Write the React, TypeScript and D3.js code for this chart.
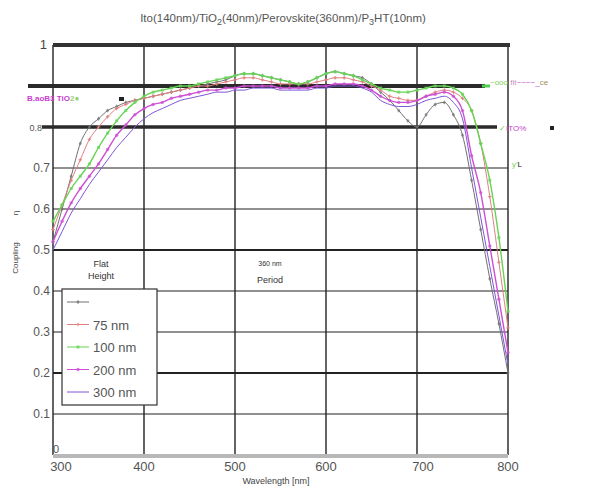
import * as d3 from "d3";

const W = 607;
const H = 489;

// wavelength grid, 10 nm steps
const wavelengths = d3.range(300, 801, 10);

const flatValues = [
  0.52, 0.6, 0.68, 0.76, 0.8, 0.82, 0.84, 0.85, 0.86, 0.865, 0.87,
  0.875, 0.88, 0.885, 0.89, 0.895, 0.9, 0.905, 0.91, 0.915, 0.925,
  0.93, 0.93, 0.925, 0.92, 0.915, 0.91, 0.905, 0.91, 0.92, 0.93,
  0.935, 0.93, 0.925, 0.92, 0.905, 0.885, 0.865, 0.84, 0.815, 0.8,
  0.83, 0.855, 0.86, 0.83, 0.78, 0.67, 0.55, 0.43, 0.32, 0.2,
];
const nm75Values = [
  0.55, 0.61, 0.67, 0.72, 0.77, 0.8, 0.825, 0.845, 0.855, 0.865, 0.87,
  0.875, 0.88, 0.885, 0.89, 0.895, 0.9, 0.9, 0.905, 0.91, 0.915,
  0.92, 0.92, 0.915, 0.91, 0.905, 0.905, 0.905, 0.905, 0.91, 0.915,
  0.92, 0.92, 0.915, 0.91, 0.9, 0.89, 0.875, 0.87, 0.865, 0.865,
  0.875, 0.885, 0.89, 0.885, 0.87, 0.84, 0.76, 0.63, 0.47, 0.31,
];
const nm100Values = [
  0.57, 0.61, 0.65, 0.68, 0.71, 0.75, 0.785, 0.815, 0.84, 0.86, 0.875,
  0.885, 0.89, 0.895, 0.9, 0.9, 0.905, 0.91, 0.915, 0.92, 0.925,
  0.93, 0.93, 0.925, 0.92, 0.915, 0.91, 0.905, 0.91, 0.92, 0.93,
  0.935, 0.93, 0.925, 0.915, 0.905, 0.895, 0.89, 0.885, 0.885, 0.89,
  0.895, 0.9, 0.9, 0.895, 0.88, 0.84, 0.76, 0.67, 0.53, 0.35,
];
const nm200Values = [
  0.52, 0.57, 0.615, 0.65, 0.68, 0.71, 0.745, 0.78, 0.805, 0.83, 0.845,
  0.855, 0.86, 0.87, 0.875, 0.88, 0.885, 0.89, 0.89, 0.895, 0.895,
  0.9, 0.9, 0.9, 0.9, 0.895, 0.895, 0.895, 0.895, 0.9, 0.9,
  0.905, 0.905, 0.905, 0.9, 0.89, 0.875, 0.865, 0.86, 0.86, 0.865,
  0.875, 0.88, 0.885, 0.875, 0.84, 0.73, 0.64, 0.51, 0.38, 0.25,
];
const nm300Values = [
  0.5, 0.545, 0.59, 0.625, 0.66, 0.69, 0.72, 0.75, 0.775, 0.8, 0.82,
  0.835, 0.845, 0.855, 0.865, 0.87, 0.875, 0.88, 0.885, 0.885, 0.89,
  0.89, 0.895, 0.895, 0.895, 0.89, 0.89, 0.89, 0.89, 0.895, 0.895,
  0.9, 0.9, 0.9, 0.895, 0.885, 0.865, 0.855, 0.85, 0.85, 0.855,
  0.865, 0.87, 0.875, 0.86, 0.82, 0.7, 0.58, 0.46, 0.34, 0.22,
];

const series = [
  { label: "", values: flatValues, color: "#707070", marker: "diamond", width: 1 },
  { label: "75 nm", values: nm75Values, color: "#e08080", marker: "cross", width: 1 },
  { label: "100 nm", values: nm100Values, color: "#66d455", marker: "square", width: 1.4 },
  { label: "200 nm", values: nm200Values, color: "#cc4fd4", marker: "circle", width: 1.4 },
  { label: "300 nm", values: nm300Values, color: "#7d55d8", marker: "none", width: 1 },
];

const xTicks = [300, 400, 500, 600, 700, 800];
const yTicks = [0, 0.1, 0.2, 0.3, 0.4, 0.5, 0.6, 0.7, 0.8, 0.9, 1];

const x = d3.scaleLinear().domain([300, 800]).range([53, 508]);
const y = d3.scaleLinear().domain([0, 1]).range([455, 45]);

const font = "'Liberation Sans', Arial, sans-serif";

function Marker({ kind, cx, cy, color }: { kind: string; cx: number; cy: number; color: string }) {
  if (kind === "diamond")
    return <path d={`M${cx},${cy - 2.2}L${cx + 1.6},${cy}L${cx},${cy + 2.2}L${cx - 1.6},${cy}Z`} fill={color} opacity={0.75} />;
  if (kind === "cross")
    return <path d={`M${cx - 1.8},${cy}H${cx + 1.8}M${cx},${cy - 1.8}V${cy + 1.8}`} stroke={color} strokeWidth={1} />;
  if (kind === "square")
    return <rect x={cx - 1.5} y={cy - 1.5} width={3} height={3} fill={color} opacity={0.75} />;
  if (kind === "circle")
    return <circle cx={cx} cy={cy} r={1.7} fill={color} opacity={0.75} />;
  return null;
}

export default function App() {
  const line = d3
    .line<number>()
    .x((_, i) => x(wavelengths[i]))
    .y((v) => y(v))
    .curve(d3.curveMonotoneX);

  return (
    <div style={{ position: "absolute", left: 0, top: 0 }}>
      <svg width={W} height={H} style={{ background: "#fff", fontFamily: font }}>
        <text x={283} y={22} textAnchor="middle" fontSize={11.5} fill="#555">
          Ito(140nm)/TiO<tspan fontSize={9} dy={3}>2</tspan>
          <tspan dy={-3}>(40nm)/Perovskite(360nm)/P</tspan>
          <tspan fontSize={9} dy={3}>3</tspan>
          <tspan dy={-3}>HT(10nm)</tspan>
        </text>

        {/* thin horizontal grid */}
        {yTicks
          .filter((t) => t > 0 && t < 0.8)
          .map((t) => (
            <line key={t} x1={x(300)} x2={x(800)} y1={y(t)} y2={y(t)} stroke="#222"
              strokeWidth={t === 0.5 || t === 0.2 ? 1.8 : 1.2} />
          ))}

        {/* vertical grid */}
        {xTicks.map((t) => (
          <line key={t} x1={x(t)} x2={x(t)} y1={y(1)} y2={y(0)} stroke="#222" strokeWidth={1.4} />
        ))}

        {/* bottom axis */}
        <line x1={x(300)} x2={x(800)} y1={y(0) + 1} y2={y(0) + 1} stroke="#b8b8b8" strokeWidth={4} />

        {/* heavy reference lines */}
        <line x1={x(300)} x2={x(800) + 2} y1={y(1)} y2={y(1)} stroke="#333" strokeWidth={4} />
        <line x1={28} x2={485} y1={y(0.9)} y2={y(0.9)} stroke="#2a2a2a" strokeWidth={4} />
        <line x1={42} x2={497} y1={y(0.8)} y2={y(0.8)} stroke="#2a2a2a" strokeWidth={3.5} />

        {/* y tick labels */}
        <text x={47} y={y(1) + 4} textAnchor="end" fontSize={13} fill="#444">1</text>
        {yTicks
          .filter((t) => t > 0 && t < 1 && t !== 0.9)
          .map((t) => (
            <text key={t} x={t === 0.8 ? 42 : 50} y={y(t) + 4} textAnchor="end" fontSize={t === 0.8 ? 9 : 12} fill="#555">
              {t.toFixed(1)}
            </text>
          ))}
        <text x={53} y={y(0) - 2} fontSize={11} fill="#555">0</text>

        {/* x tick labels */}
        {xTicks.map((t) => (
          <text key={t} x={x(t) + (t === 300 ? 8 : t === 700 ? 6 : 0)} y={471} textAnchor="middle" fontSize={13} fill="#555">
            {t}
          </text>
        ))}
        <text x={276} y={484} textAnchor="middle" fontSize={9} fill="#444">Wavelength [nm]</text>

        {/* y axis title */}
        <text transform="translate(18,258) rotate(-90)" textAnchor="middle" fontSize={8} fill="#444">Coupling</text>
        <text transform="translate(18,213) rotate(-90)" textAnchor="middle" fontSize={8} fill="#444">η</text>

        {/* curves */}
        {series.map((s) => (
          <g key={s.color}>
            <path d={line(s.values) ?? ""} fill="none" stroke={s.color} strokeWidth={s.width} />
            {s.values.map((v, i) => (
              <Marker key={i} kind={s.marker} cx={x(wavelengths[i])} cy={y(v)} color={s.color} />
            ))}
          </g>
        ))}

        {/* stray annotation labels */}
        <text x={27} y={101} fontSize={8} fill="#c93fd0" fontWeight="bold">B.aoB3 TiO<tspan fill="#9acd7a">2●</tspan></text>
        <rect x={119} y={97} width={5} height={4} fill="#222" />
        <line x1={482} x2={490} y1={y(0.9)} y2={y(0.9)} stroke="#4fcf4f" strokeWidth={3} />
        <text x={490} y={85} fontSize={8} fill="#7ccf5a">~ooo <tspan fill="#c98fc0">fit</tspan>
          <tspan fill="#c93fd0">~~~~_</tspan><tspan fill="#a09060">ce</tspan></text>
        <text x={499} y={131} fontSize={8} fill="#6fcf5a">✓<tspan fill="#c93fd0">ITO%</tspan></text>
        <rect x={550} y={126} width={4} height={4} fill="#222" />
        <text x={512} y={167} fontSize={8} fill="#6fcf5a">y'<tspan fill="#222">L</tspan></text>

        {/* annotations */}
        <text x={101} y={267} textAnchor="middle" fontSize={9} fill="#333">Flat</text>
        <text x={101} y={279} textAnchor="middle" fontSize={9} fill="#333">Height</text>
        <text x={270} y={266} textAnchor="middle" fontSize={7} fill="#333">360 nm</text>
        <text x={270} y={283} textAnchor="middle" fontSize={9} fill="#333">Period</text>

        {/* legend */}
        <rect x={62} y={289} width={95} height={116} fill="#fff" stroke="#333" strokeWidth={1.2} />
        {series.map((s, i) => {
          const ly = 302 + i * 22.5;
          return (
            <g key={s.color}>
              <line x1={67} x2={89} y1={ly} y2={ly} stroke={s.color} strokeWidth={1} />
              <Marker kind={s.marker} cx={78} cy={ly} color={s.color} />
              <text x={93} y={ly + 5} fontSize={13} fill="#555">{s.label}</text>
            </g>
          );
        })}
      </svg>
    </div>
  );
}
